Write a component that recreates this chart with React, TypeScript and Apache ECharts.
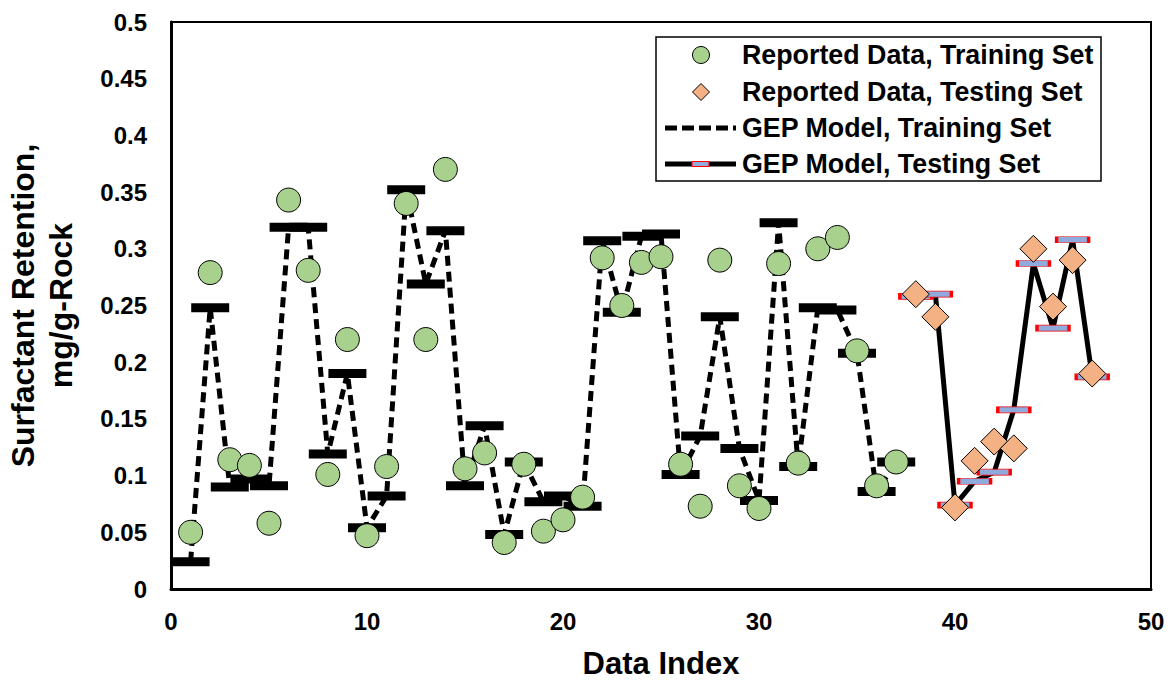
import React, { useEffect, useRef } from "react";
import * as echarts from "echarts";

const trainIndex = [1,2,3,4,5,6,7,8,9,10,11,12,13,14,15,16,17,18,19,20,21,22,23,24,25,26,27,28,29,30,31,32,33,34,35,36,37];
const trainReported = [0.050,0.279,0.114,0.109,0.058,0.343,0.281,0.101,0.220,0.047,0.108,0.340,0.220,0.370,0.106,0.120,0.041,0.110,0.051,0.061,0.081,0.292,0.250,0.288,0.293,0.110,0.073,0.290,0.091,0.071,0.287,0.111,0.300,0.310,0.210,0.091,0.112];
const trainModel = [0.024,0.248,0.090,0.097,0.091,0.319,0.319,0.119,0.190,0.054,0.082,0.352,0.269,0.316,0.091,0.144,0.048,0.112,0.077,0.082,0.073,0.307,0.244,0.311,0.313,0.101,0.135,0.240,0.124,0.078,0.323,0.108,0.248,0.246,0.208,0.086,0.112];

const testIndex = [38,39,40,41,42,43,44,45,46,47];
const testReported = [0.260,0.240,0.072,0.113,0.130,0.124,0.300,0.249,0.290,0.190];
const testModel = [0.258,0.260,0.074,0.095,0.103,0.158,0.287,0.230,0.308,0.187];

const legendLabels = [
  "Reported Data, Training Set",
  "Reported Data, Testing Set",
  "GEP Model, Training Set",
  "GEP Model, Testing Set",
];

const FONT = "'Liberation Sans', Arial, sans-serif";
const GREEN = "#a9d18e";
const ORANGE = "#f4b183";
const BLUE = "#8faadc";

const pairs = (xs: number[], ys: number[]) => xs.map((x, i) => [x, ys[i]]);

export default function App() {
  const ref = useRef<HTMLDivElement>(null);
  useEffect(() => {
    if (!ref.current) return;
    const chart = echarts.init(ref.current, null, { renderer: "svg" });
    const rowY = [55, 92, 128, 164];
    const textX = 742;
    chart.setOption({
      animation: false,
      backgroundColor: "#fff",
      grid: {
        left: 171,
        top: 22,
        right: 22,
        bottom: 91,
        show: true,
        borderColor: "#000",
        borderWidth: 2,
        containLabel: false,
        outerBoundsMode: "none",
      },
      xAxis: {
        type: "value",
        min: 0,
        max: 50,
        interval: 10,
        name: "Data Index",
        nameLocation: "middle",
        nameGap: 59,
        nameTextStyle: { fontFamily: FONT, fontWeight: "bold", fontSize: 31, lineHeight: 30, color: "#000" },
        axisLine: { show: true, onZero: false, lineStyle: { color: "#000", width: 3 } },
        axisTick: { show: false },
        splitLine: { show: false },
        axisLabel: { fontFamily: FONT, fontWeight: "bold", fontSize: 24, color: "#000", margin: 20 },
      },
      yAxis: {
        type: "value",
        min: 0,
        max: 0.5,
        interval: 0.05,
        name: "Surfactant Retention,\nmg/g-Rock",
        nameLocation: "middle",
        nameRotate: 90,
        nameGap: 91,
        nameTextStyle: { fontFamily: FONT, fontWeight: "bold", fontSize: 32, lineHeight: 38, color: "#000", align: "center" },
        axisLine: { show: true, lineStyle: { color: "#000", width: 3 } },
        axisTick: { show: false },
        splitLine: { show: false },
        axisLabel: {
          fontFamily: FONT,
          fontWeight: "bold",
          fontSize: 24,
          color: "#000",
          margin: 24,
          formatter: (v: number) => String(parseFloat(v.toFixed(2))),
        },
      },
      series: [
        {
          name: legendLabels[2],
          type: "line",
          data: pairs(trainIndex, trainModel),
          symbol: "rect",
          symbolSize: [38, 9],
          showSymbol: true,
          itemStyle: { color: "#000" },
          lineStyle: { color: "#000", width: 5, type: [10, 6] },
          z: 2,
        },
        {
          name: legendLabels[3],
          type: "line",
          data: pairs(testIndex, testModel),
          symbol: "rect",
          symbolSize: [32, 6],
          showSymbol: true,
          itemStyle: { color: BLUE, borderColor: "#ff0000", borderWidth: 1.5 },
          lineStyle: { color: "#000", width: 5 },
          z: 2,
        },
        {
          name: legendLabels[0],
          type: "scatter",
          data: pairs(trainIndex, trainReported),
          symbol: "circle",
          symbolSize: 24,
          itemStyle: { color: GREEN, borderColor: "#000", borderWidth: 1, opacity: 1 },
          z: 3,
        },
        {
          name: legendLabels[1],
          type: "scatter",
          data: pairs(testIndex, testReported),
          symbol: "diamond",
          symbolSize: 27,
          itemStyle: { color: ORANGE, borderColor: "#000", borderWidth: 1, opacity: 1 },
          z: 3,
        },
      ],
      graphic: [
        {
          type: "group",
          z: 100,
          children: [
            { type: "rect", shape: { x: 656, y: 37, width: 445, height: 144 }, style: { fill: "#fff", stroke: "#000", lineWidth: 1.5 } },
            { type: "circle", shape: { cx: 701, cy: rowY[0], r: 8.5 }, style: { fill: GREEN, stroke: "#000", lineWidth: 1 } },
            { type: "polygon", shape: { points: [[701, rowY[1] - 8.5], [709.5, rowY[1]], [701, rowY[1] + 8.5], [692.5, rowY[1]]] }, style: { fill: ORANGE, stroke: "#000", lineWidth: 1 } },
            { type: "line", shape: { x1: 665, y1: rowY[2], x2: 736, y2: rowY[2] }, style: { stroke: "#000", lineWidth: 5, lineDash: [12, 5] } },
            { type: "line", shape: { x1: 665, y1: rowY[3], x2: 736, y2: rowY[3] }, style: { stroke: "#000", lineWidth: 5 } },
            { type: "rect", shape: { x: 692, y: rowY[3] - 2.5, width: 17, height: 5 }, style: { fill: BLUE, stroke: "#ff0000", lineWidth: 1.2 } },
            ...legendLabels.map((t, i) => ({
              type: "text",
              x: textX,
              y: rowY[i],
              style: { text: t, fill: "#000", font: `bold 26.8px ${FONT}`, textVerticalAlign: "middle", verticalAlign: "middle" },
            })),
          ],
        },
      ],
    });
    return () => chart.dispose();
  }, []);
  return (
    <div
      ref={ref}
      style={{ position: "absolute", left: 0, top: 0, width: 1173, height: 680, background: "#fff" }}
    />
  );
}
